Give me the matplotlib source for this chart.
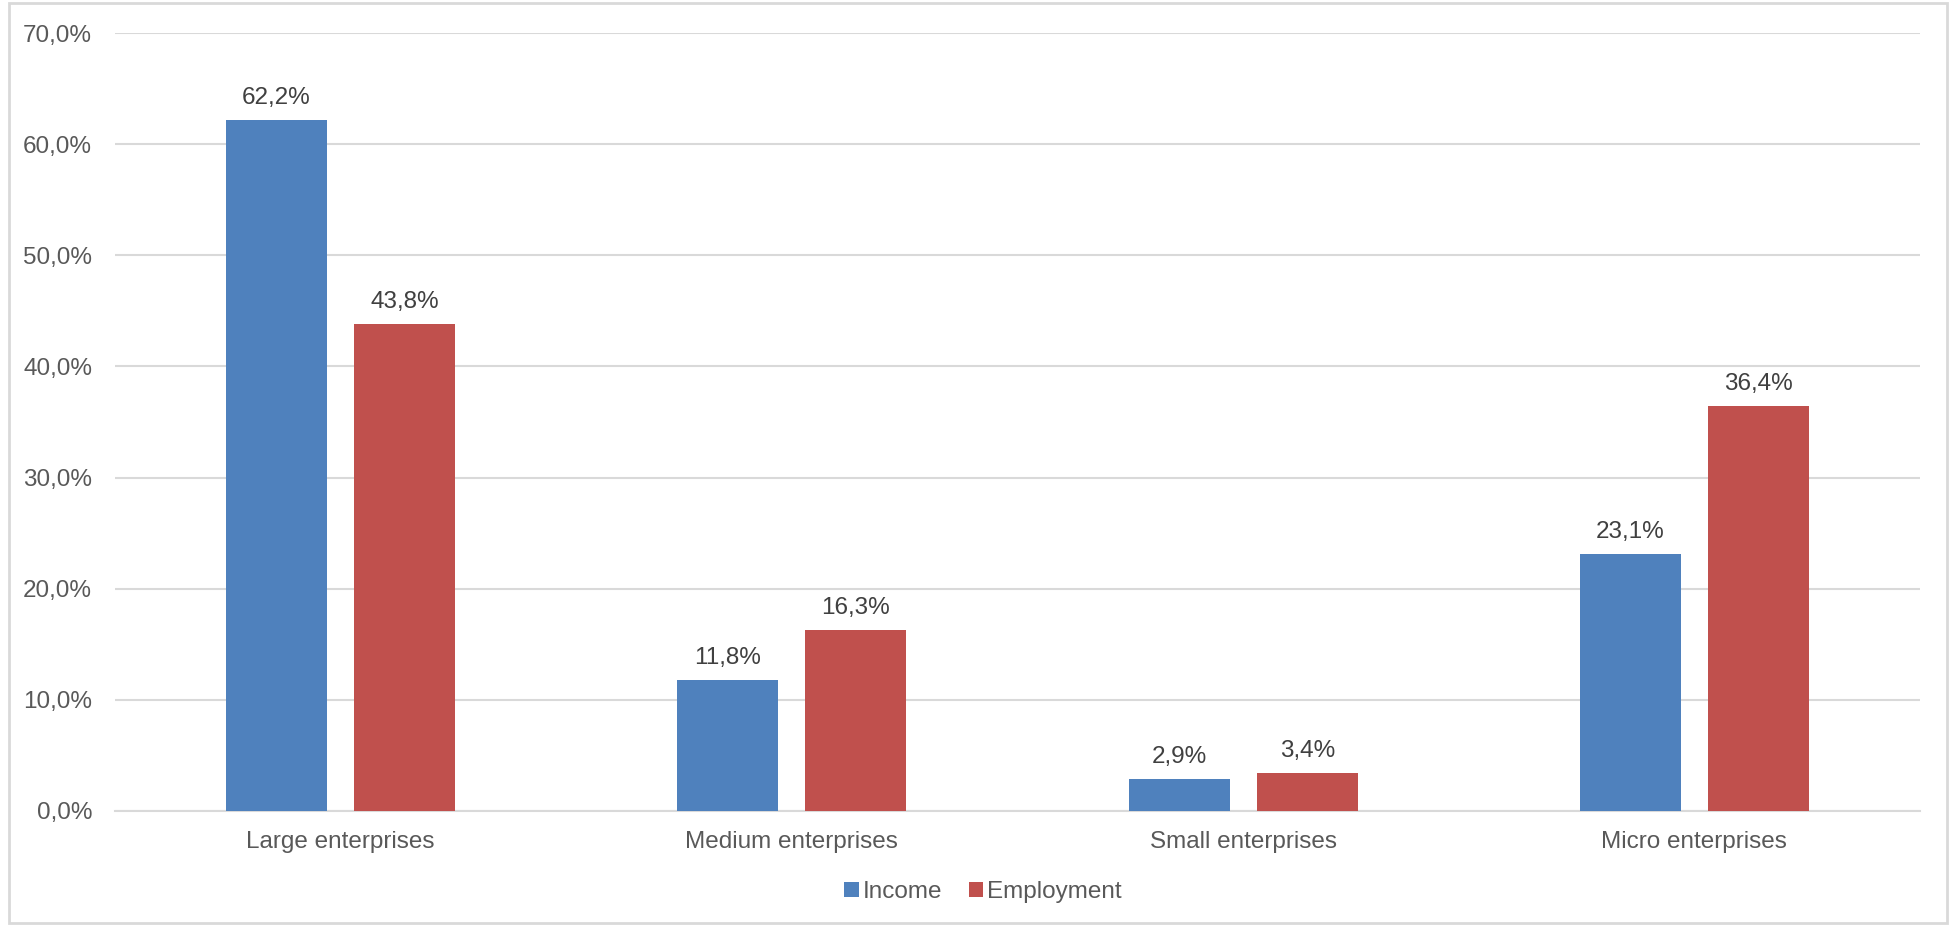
import matplotlib
matplotlib.use("Agg")
import matplotlib.pyplot as plt
import numpy as np
from matplotlib.patches import Rectangle

categories = ["Large enterprises", "Medium enterprises", "Small enterprises", "Micro enterprises"]
income = [62.2, 11.8, 2.9, 23.1]
employment = [43.8, 16.3, 3.4, 36.4]
series_names = ["Income", "Employment"]
yticks = [0, 10, 20, 30, 40, 50, 60, 70]

plt.rcParams['font.family'] = ['Liberation Sans', 'DejaVu Sans']
W, H = 1953, 925
fig = plt.figure(figsize=(W/100, H/100), dpi=100)
fig.patch.set_facecolor("white")
fig.add_artist(Rectangle((9/W, 2/H), (1947-9)/W, (922-2)/H, transform=fig.transFigure,
                         fill=False, edgecolor="#D9D9D9", linewidth=2))

ax = fig.add_axes([115/W, 1-811/H, (1920-115)/W, (811-33)/H])
x = np.arange(len(categories))
bw = 0.224
off = (bw + 0.06) / 2
b1 = ax.bar(x - off, income, bw, color="#4F81BD", label=series_names[0], zorder=3)
b2 = ax.bar(x + off, employment, bw, color="#C0504D", label=series_names[1], zorder=3)

fs = 17.5
for bars, vals in ((b1, income), (b2, employment)):
    for r, v in zip(bars, vals):
        ax.annotate(f"{v:.1f}%".replace(".", ","), (r.get_x() + r.get_width()/2, v),
                    xytext=(0, 8), textcoords="offset points", ha="center", va="bottom",
                    fontsize=fs, color="#404040")

ax.set_xlim(-0.5, len(categories) - 0.5)
ax.set_ylim(0, 70)
ax.set_yticks(yticks)
ax.set_yticklabels([f"{t:.1f}%".replace(".", ",") for t in yticks], fontsize=fs, color="#595959")
ax.set_xticks(x)
ax.set_xticklabels(categories, fontsize=fs, color="#595959")
ax.tick_params(axis="both", length=0)
ax.tick_params(axis="y", pad=16.5)
ax.tick_params(axis="x", pad=14.5)
ax.grid(axis="y", color="#D9D9D9", linewidth=1.5, zorder=0)
for s in ("top", "right", "left"):
    ax.spines[s].set_visible(False)
ax.spines["bottom"].set_color("#D9D9D9")
ax.spines["bottom"].set_linewidth(1.5)

leg = fig.legend(loc="center", bbox_to_anchor=(983/W, 1-892/H), ncol=2, frameon=False,
                 fontsize=fs, handlelength=0.6, handleheight=0.6, handletextpad=0.15,
                 columnspacing=1.1, labelcolor="#595959")
fig.savefig("out.png", dpi=100, facecolor="white")
